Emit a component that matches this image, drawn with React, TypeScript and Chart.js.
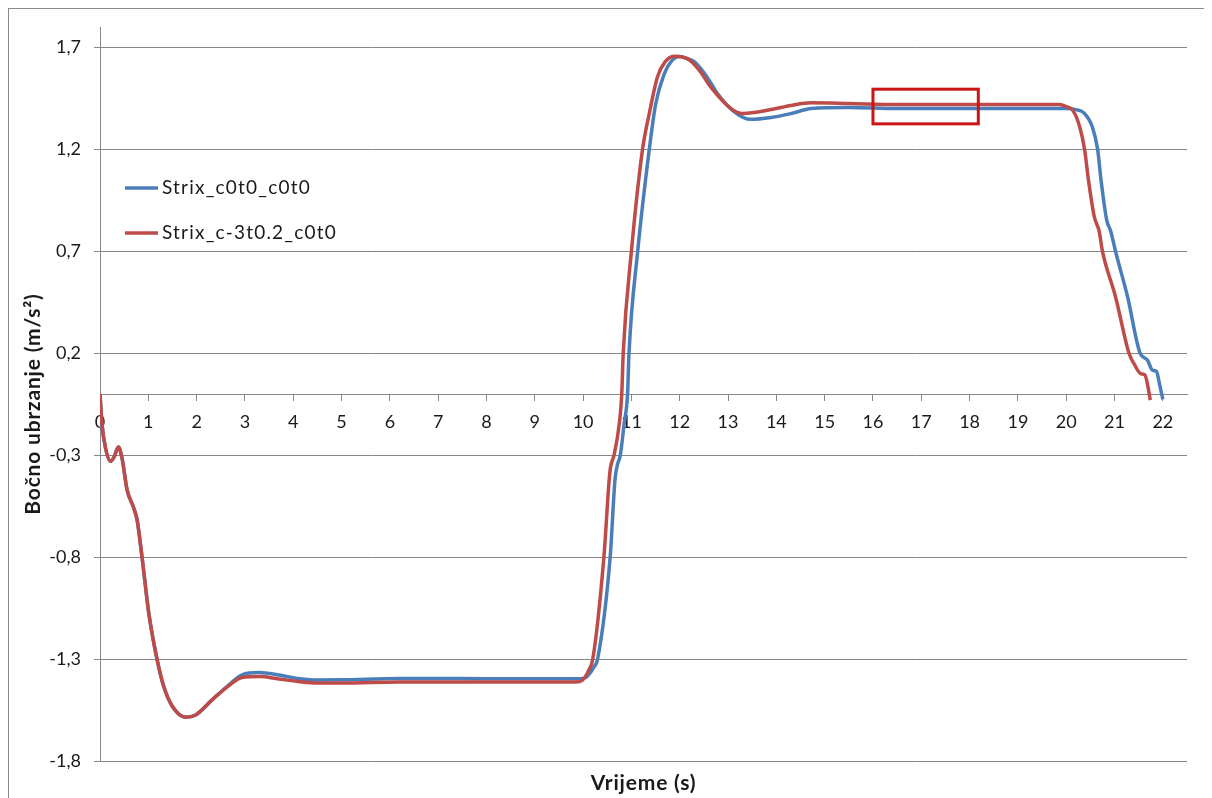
import React, { useEffect, useRef } from "react";
import { Chart, registerables } from "chart.js";

Chart.register(...registerables);

const seriesNames = ["Strix_c0t0_c0t0", "Strix_c-3t0.2_c0t0"];

const blueTimes = [0, 0.04, 0.11, 0.22, 0.29, 0.38, 0.46, 0.56, 0.7, 0.77, 0.87, 1.01, 1.18, 1.32, 1.5, 1.77, 1.98, 2.32, 2.67, 2.94, 3.29, 3.7, 4.05, 4.5, 5.0, 6.2, 8.0, 9.67, 9.95, 10.06, 10.23, 10.3, 10.56, 10.66, 10.71, 10.77, 10.85, 10.92, 10.95, 11.13, 11.37, 11.5, 11.68, 11.82, 11.99, 12.15, 12.3, 12.55, 12.78, 13.13, 13.47, 13.89, 14.3, 14.72, 15.5, 16.5, 18.0, 19.5, 20.0, 20.2, 20.36, 20.54, 20.65, 20.72, 20.84, 20.92, 21.02, 21.27, 21.53, 21.68, 21.78, 21.87, 21.93, 22.0];
const blueValues = [0, -0.145, -0.26, -0.33, -0.31, -0.26, -0.32, -0.47, -0.56, -0.62, -0.8, -1.075, -1.3, -1.435, -1.533, -1.585, -1.574, -1.5, -1.426, -1.377, -1.366, -1.378, -1.394, -1.403, -1.402, -1.395, -1.396, -1.397, -1.397, -1.39, -1.337, -1.3, -0.8, -0.42, -0.348, -0.3, -0.144, 0, 0.2, 0.7, 1.2, 1.42, 1.57, 1.63, 1.655, 1.645, 1.63, 1.56, 1.474, 1.384, 1.347, 1.356, 1.375, 1.4, 1.405, 1.4, 1.4, 1.4, 1.4, 1.395, 1.38, 1.31, 1.2, 1.05, 0.85, 0.8, 0.7, 0.477, 0.2, 0.167, 0.118, 0.11, 0.05, -0.026];

const redTimes = [0, 0.04, 0.11, 0.22, 0.29, 0.38, 0.46, 0.56, 0.7, 0.77, 0.87, 1.01, 1.18, 1.32, 1.5, 1.77, 1.98, 2.32, 2.67, 2.94, 3.3, 3.7, 4.1, 4.5, 5.0, 6.2, 8.0, 9.67, 9.85, 9.98, 10.12, 10.2, 10.43, 10.54, 10.57, 10.64, 10.75, 10.8, 10.83, 11.0, 11.23, 11.37, 11.54, 11.7, 11.88, 12.16, 12.4, 12.64, 13.06, 13.3, 13.89, 14.3, 14.72, 15.5, 16.5, 18.0, 19.5, 19.85, 20.0, 20.14, 20.28, 20.38, 20.46, 20.58, 20.68, 20.75, 21.02, 21.3, 21.4, 21.54, 21.63, 21.68, 21.74];
const redValues = [0, -0.145, -0.26, -0.33, -0.31, -0.26, -0.32, -0.47, -0.56, -0.62, -0.8, -1.075, -1.3, -1.435, -1.533, -1.585, -1.574, -1.5, -1.43, -1.39, -1.386, -1.398, -1.41, -1.418, -1.418, -1.413, -1.413, -1.413, -1.413, -1.405, -1.353, -1.3, -0.8, -0.42, -0.356, -0.3, -0.144, 0, 0.2, 0.7, 1.2, 1.376, 1.556, 1.63, 1.657, 1.645, 1.59, 1.506, 1.4, 1.376, 1.395, 1.415, 1.428, 1.425, 1.42, 1.42, 1.42, 1.42, 1.41, 1.39, 1.31, 1.2, 1.05, 0.87, 0.8, 0.7, 0.477, 0.2, 0.15, 0.1, 0.093, 0.05, -0.03];

const xTickValues = [0, 1, 2, 3, 4, 5, 6, 7, 8, 9, 10, 11, 12, 13, 14, 15, 16, 17, 18, 19, 20, 21, 22];
const yTickValues = [-1.8, -1.3, -0.8, -0.3, 0.2, 0.7, 1.2, 1.7];
const xRange = [0, 22.5];
const yRange = [-1.8, 1.8];

const highlightTimes = [16.0, 18.18];
const highlightValues = [1.325, 1.495];

const xTitle = "Vrijeme (s)";
const yTitle = "Bočno ubrzanje (m/s²)";

const BLUE = "#4A7EBB";
const RED = "#BE4B48";
const GRID = "#878787";
const TEXT = "#1a1a1a";
const BOX = "#CC1414";
const FONT = "Lato, 'Open Sans', sans-serif";

const overlay = {
  id: "overlay",
  afterDatasetsDraw(chart: any) {
    const { ctx, chartArea, scales } = chart;
    const x = scales.x;
    const y = scales.y;
    ctx.save();
    // highlight box
    const bx0 = x.getPixelForValue(highlightTimes[0]);
    const bx1 = x.getPixelForValue(highlightTimes[1]);
    const by0 = y.getPixelForValue(highlightValues[1]);
    const by1 = y.getPixelForValue(highlightValues[0]);
    ctx.strokeStyle = BOX;
    ctx.lineWidth = 3;
    ctx.strokeRect(bx0, by0, bx1 - bx0, by1 - by0);

    // legend
    const colors = [BLUE, RED];
    const lx = chartArea.left + 25;
    const ly = [chartArea.top + 161, chartArea.top + 206];
    ctx.font = `19px ${FONT}`;
    (ctx as any).letterSpacing = "1.2px";
    ctx.textAlign = "left";
    ctx.textBaseline = "middle";
    seriesNames.forEach((name, i) => {
      ctx.strokeStyle = colors[i];
      ctx.lineWidth = 3.5;
      ctx.beginPath();
      ctx.moveTo(lx, ly[i]);
      ctx.lineTo(lx + 33, ly[i]);
      ctx.stroke();
      ctx.fillStyle = TEXT;
      ctx.fillText(name, lx + 37, ly[i]);
    });

    // axis titles
    ctx.fillStyle = TEXT;
    ctx.font = `bold 21px ${FONT}`;
    (ctx as any).letterSpacing = "0.8px";
    ctx.textAlign = "center";
    ctx.textBaseline = "middle";
    ctx.fillText(xTitle, (chartArea.left + chartArea.right) / 2, 774);
    ctx.save();
    ctx.translate(24, 395);
    ctx.rotate(-Math.PI / 2);
    ctx.fillText(yTitle, 0, 0);
    ctx.restore();
    (ctx as any).letterSpacing = "0px";
    ctx.restore();
  },
};

export default function App() {
  const ref = useRef<HTMLCanvasElement>(null);
  useEffect(() => {
    document.documentElement.style.overflow = "hidden";
    document.body.style.overflow = "hidden";
    const toPts = (ts: number[], vs: number[]) => ts.map((t, i) => ({ x: t, y: vs[i] }));
    const chart = new Chart(ref.current as HTMLCanvasElement, {
      type: "line",
      data: {
        datasets: [
          {
            label: seriesNames[0],
            data: toPts(blueTimes, blueValues),
            borderColor: BLUE,
            borderWidth: 3.5,
            pointRadius: 0,
            cubicInterpolationMode: "monotone",
            fill: false,
            order: 1,
          },
          {
            label: seriesNames[1],
            data: toPts(redTimes, redValues),
            borderColor: RED,
            borderWidth: 3.5,
            pointRadius: 0,
            cubicInterpolationMode: "monotone",
            fill: false,
            order: 0,
          },
        ],
      },
      options: {
        responsive: false,
        animation: false,
        layout: { padding: { left: 0, right: 23, top: 18, bottom: 37 } },
        plugins: {
          legend: { display: false },
          tooltip: { enabled: false },
          title: { display: false },
        },
        scales: {
          x: {
            type: "linear",
            min: xRange[0],
            max: xRange[1],
            position: { y: 0 },
            afterBuildTicks: (s: any) => {
              s.ticks = xTickValues.map((v) => ({ value: v }));
            },
            afterFit: (s: any) => {
              s.paddingTop = 0;
              s.paddingBottom = 0;
            },
            grid: { drawOnChartArea: false, drawTicks: true, tickLength: 6, color: GRID },
            border: { display: true, color: GRID, width: 1 },
            ticks: {
              font: { family: FONT, size: 18 },
              color: TEXT,
              padding: 11,
              maxRotation: 0,
              autoSkip: false,
              callback: (v: any) => String(v),
            },
          },
          y: {
            type: "linear",
            min: yRange[0],
            max: yRange[1],
            afterBuildTicks: (s: any) => {
              s.ticks = yTickValues.map((v) => ({ value: v }));
            },
            afterFit: (s: any) => {
              s.width = 91;
              s.paddingTop = 0;
              s.paddingBottom = 0;
            },
            grid: { color: GRID, tickLength: 6, drawTicks: true },
            border: { display: true, color: GRID, width: 1 },
            ticks: {
              font: { family: FONT, size: 18 },
              color: TEXT,
              padding: 13,
              autoSkip: false,
              callback: (v: any) => Number(v).toFixed(1).replace(".", ","),
            },
          },
        },
      },
      plugins: [overlay],
    } as any);
    return () => chart.destroy();
  }, []);

  return (
    <div
      style={{
        position: "relative",
        width: 1201,
        height: 789,
        borderTop: "1px solid #8a8a8a",
        borderLeft: "1px solid #8a8a8a",
        borderRight: "1px solid #8a8a8a",
        background: "#fff",
      }}
    >
      <canvas ref={ref} width={1201} height={789} style={{ display: "block" }} />
    </div>
  );
}
